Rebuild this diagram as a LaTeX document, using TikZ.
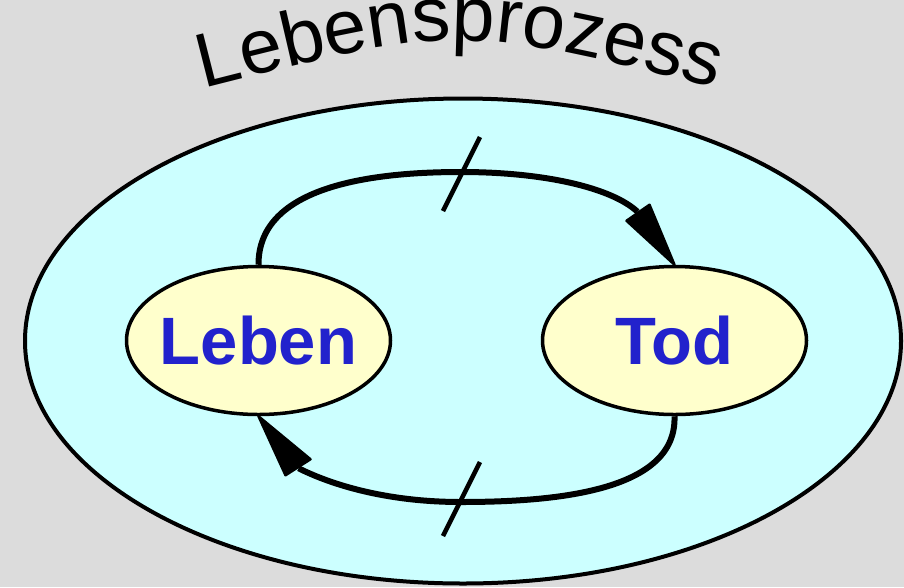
\documentclass[tikz,border=0pt]{standalone}
\usepackage{fontspec}
\setmainfont{Liberation Sans}
\usetikzlibrary{shapes.geometric,calc,decorations.text}
\definecolor{bg}{RGB}{220,220,220}
\definecolor{procfill}{RGB}{204,255,255}
\definecolor{statefill}{RGB}{255,255,204}
\definecolor{statetext}{RGB}{34,34,204}
\begin{document}
\begin{tikzpicture}[x=1pt,y=-1pt,
  process/.style={ellipse, draw, line width=4pt, fill=procfill,
    minimum width=876pt, minimum height=485pt, inner sep=0pt},
  state/.style={ellipse, draw, line width=3.5pt, fill=statefill,
    minimum width=264pt, minimum height=148pt, inner sep=0pt},
  statelabel/.style={font=\fontsize{67}{70}\selectfont\bfseries, text=statetext},
  flow/.style={line width=6pt},
  tiphead/.style={fill=black, draw=black, line width=2.5pt, line join=round},
  cut/.style={line width=4.5pt}]
  % background
  \fill[bg] (0,0) rectangle (904,587);
  \useasboundingbox (0,0) rectangle (904,587);

  % the enclosing process
  \node[process] (proc) at (463,341) {};

  % title along an arc
  \coordinate (titleL) at (185,93);
  \coordinate (titleR) at (735,93);
  \path[decorate, decoration={text along path, text align=center,
      text={|\fontsize{77}{80}\selectfont|Lebensprozess}}]
    (titleL) .. controls (460,23) .. (titleR);

  % the two states
  \node[state, label={[statelabel]center:Leben}] (leben) at (258.5,340.5) {};
  \node[state, label={[statelabel]center:Tod}] (tod) at (674.5,340.5) {};

  % transition Leben -> Tod, with its head
  \draw[flow] (leben.north) .. controls (258,185) and (375,172) .. (461,172)
              .. controls (545,172) and (612,188) .. ($(tod.north)+(-37,-53)$);
  \filldraw[tiphead] (tod.north) -- ($(tod.north)+(-48,-44)$)
              -- ($(tod.north)+(-25,-60)$) -- cycle;

  % transition Tod -> Leben, with its head
  \draw[flow] (tod.south) .. controls (677,490) and (560,502) .. (461,502)
              .. controls (385,502) and (330,484) .. ($(leben.south)+(40,52)$);
  \filldraw[tiphead] (leben.south) -- ($(leben.south)+(27,59)$)
              -- ($(leben.south)+(52,43)$) -- cycle;

  % strokes across the transitions
  \coordinate (cutTa) at (443,211);
  \coordinate (cutTb) at (480,137);
  \coordinate (cutBa) at (443,536);
  \coordinate (cutBb) at (480,462);
  \draw[cut] (cutTa) -- (cutTb);
  \draw[cut] (cutBa) -- (cutBb);
\end{tikzpicture}
\end{document}
